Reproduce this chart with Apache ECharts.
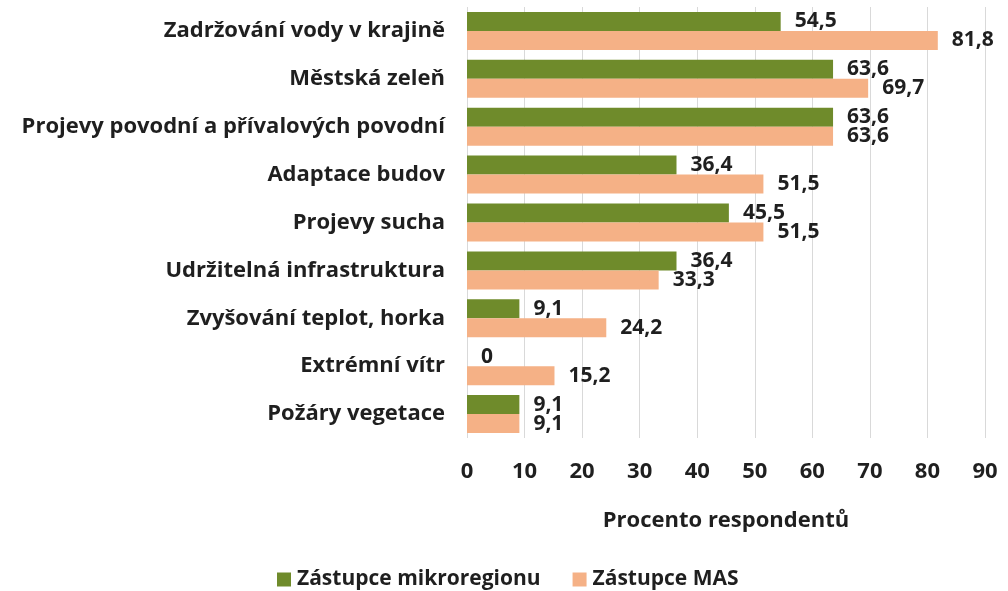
<!DOCTYPE html>
<html>
<head>
<meta charset="utf-8">
<script src="https://cdn.jsdelivr.net/npm/echarts@6/dist/echarts.min.js"></script>
<style>
  html, body { margin: 0; padding: 0; background: #fff; }
  #chart { width: 1008px; height: 591px; }
</style>
</head>
<body>
<div id="chart"></div>
<script>
// kategorie odshora dolů
const categories = [
  'Zadržování vody v krajině',
  'Městská zeleň',
  'Projevy povodní a přívalových povodní',
  'Adaptace budov',
  'Projevy sucha',
  'Udržitelná infrastruktura',
  'Zvyšování teplot, horka',
  'Extrémní vítr',
  'Požáry vegetace'
];
const mikroregion = [54.5, 63.6, 63.6, 36.4, 45.5, 36.4, 9.1, 0, 9.1];
const mas = [81.8, 69.7, 63.6, 51.5, 51.5, 33.3, 24.2, 15.2, 9.1];
const xTicks = [0, 10, 20, 30, 40, 50, 60, 70, 80, 90];

const font = '"Open Sans", sans-serif';
const ink = '#1f1f1f';
const chart = echarts.init(document.getElementById('chart'));

const labelStyle = {
  show: true,
  position: 'right',
  distance: 14,
  color: ink,
  fontFamily: font,
  fontWeight: 'bold',
  fontSize: 21,
  formatter: p => String(p.value).replace('.', ',')
};

const option = {
  animation: false,
  backgroundColor: '#fff',
  grid: { left: 467, right: 23, top: 7, bottom: 153 },
  legend: {
    data: ['Zástupce mikroregionu', 'Zástupce MAS'],
    left: 272,
    top: 564,
    itemWidth: 14,
    itemHeight: 14,
    itemGap: 32,
    icon: 'rect',
    textStyle: { fontFamily: font, fontWeight: 'bold', fontSize: 21, color: ink, padding: [0, 0, 0, 1] }
  },
  xAxis: {
    type: 'value',
    min: xTicks[0],
    max: xTicks[xTicks.length - 1],
    interval: 10,
    name: 'Procento respondentů',
    nameLocation: 'middle',
    nameGap: 72,
    nameTextStyle: { fontFamily: font, fontWeight: 'bold', fontSize: 22, color: ink },
    axisLine: { show: false },
    axisTick: { show: false },
    axisLabel: { margin: 23, fontFamily: font, fontWeight: 'bold', fontSize: 22, color: ink },
    splitLine: { show: true, lineStyle: { color: '#d9d9d9', width: 1 } }
  },
  yAxis: {
    type: 'category',
    data: categories,
    inverse: true,
    axisLine: { show: false },
    axisTick: { show: false },
    axisLabel: { margin: 22, fontFamily: font, fontWeight: 'bold', fontSize: 22, color: ink }
  },
  series: [
    {
      name: 'Zástupce mikroregionu',
      type: 'bar',
      data: mikroregion,
      barWidth: 19,
      barGap: '0%',
      itemStyle: { color: '#6f8b2b' },
      label: labelStyle
    },
    {
      name: 'Zástupce MAS',
      type: 'bar',
      data: mas,
      barWidth: 19,
      barGap: '0%',
      itemStyle: { color: '#f5b186' },
      label: labelStyle
    }
  ]
};

chart.setOption(option);
</script>
</body>
</html>
